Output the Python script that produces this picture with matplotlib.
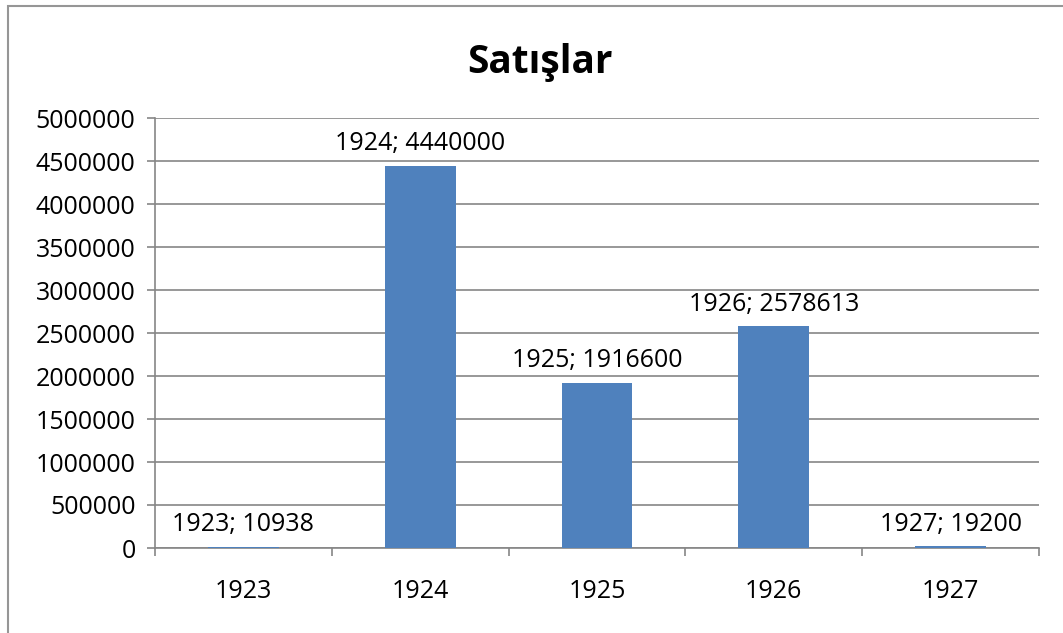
import matplotlib.pyplot as plt
from matplotlib.patches import Rectangle
from matplotlib.ticker import FixedLocator

# Veriler
yillar = ["1923", "1924", "1925", "1926", "1927"]
satislar = [10938, 4440000, 1916600, 2578613, 19200]
y_ticks = list(range(0, 5000001, 500000))

plt.rcParams['font.family'] = ['Open Sans', 'DejaVu Sans']

fig = plt.figure(figsize=(10.63, 6.33), dpi=100)
ax = fig.add_axes([155/1063, 1 - 548/633, (1039 - 155)/1063, (548 - 118)/633])

x = list(range(len(yillar)))
bars = ax.bar(x, satislar, width=0.4, color='#4F81BD', zorder=3)

for xi, yil, val in zip(x, yillar, satislar):
    ax.annotate(f"{yil}; {val}", (xi, val), xytext=(0, 7), textcoords='offset points',
                ha='center', va='bottom', fontsize=18, color='black')

ax.set_xlim(-0.5, len(yillar) - 0.5)
ax.set_ylim(0, 5000000)
ax.set_yticks(y_ticks)
ax.set_yticklabels([str(v) for v in y_ticks], fontsize=18)
ax.yaxis.grid(True, color='#868686', lw=1.2, zorder=0)

ax.set_xticks(x)
ax.set_xticklabels(yillar, fontsize=18)
ax.xaxis.set_minor_locator(FixedLocator([i - 0.5 for i in range(len(yillar) + 1)]))
ax.tick_params(axis='x', which='major', length=0, pad=22)
ax.tick_params(axis='x', which='minor', length=6, color='#868686', width=1.2, direction='out')
ax.tick_params(axis='y', length=6, color='#868686', width=1.2, pad=8)

for s in ['top', 'right']:
    ax.spines[s].set_visible(False)
for s in ['left', 'bottom']:
    ax.spines[s].set_color('#868686')
    ax.spines[s].set_linewidth(1.2)

fig.text(540/1063, 1 - 62/633, "Satışlar", ha='center', va='center',
         fontsize=28, fontweight='bold')

fig.patches.append(Rectangle((8/1063, -0.1), 1.1, 1 - 6/633 + 0.1, transform=fig.transFigure,
                             fill=False, edgecolor='#969696', lw=1.5))

fig.savefig("out.png", dpi=100)
